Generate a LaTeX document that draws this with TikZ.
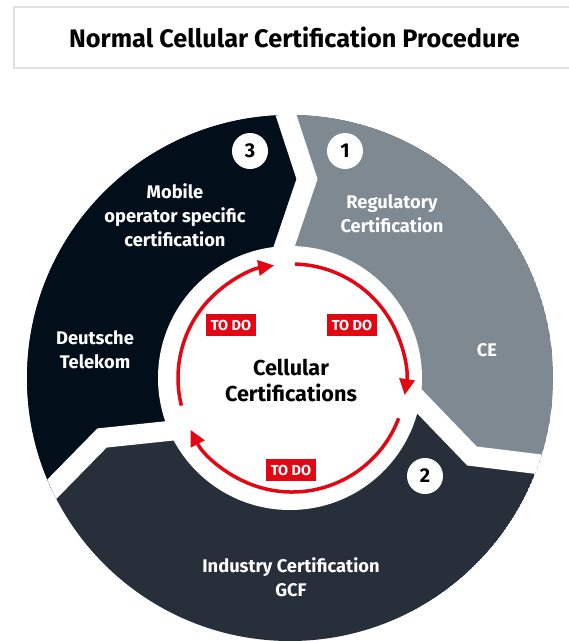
\documentclass[tikz,border=0pt]{standalone}
\usepackage{fontspec}
\setmainfont{Fira Sans}
\usetikzlibrary{arrows.meta,calc}
\definecolor{segA}{HTML}{7E8992}
\definecolor{segB}{HTML}{262F3A}
\definecolor{segC}{HTML}{020E1A}
\definecolor{todored}{HTML}{E30613}
\definecolor{framegray}{HTML}{DDE1E4}
\begin{document}
\begin{tikzpicture}[x=1pt,y=-1pt,
  seglabel/.style={text=white, font=\bfseries\fontsize{18.3}{24}\selectfont, align=center, inner sep=0pt},
  badge/.style={circle, fill=white, minimum size=36pt, inner sep=0pt, font=\bfseries\fontsize{20}{20}\selectfont},
  todo/.style={fill=todored, text=white, font=\bfseries\fontsize{14.5}{14.5}\selectfont, minimum width=50pt, minimum height=22pt, inner sep=0pt},
  gapline/.style={white, line width=20pt, line join=miter, miter limit=10},
  cyclearrow/.style={todored, line width=3.5pt, -{Triangle[length=16pt,width=15pt]}}
]
\useasboundingbox (0,0) rectangle (569,641);
\fill[white] (0,0) rectangle (569,641);
% title
\node[draw=framegray, line width=1.5pt, minimum width=561pt, minimum height=61pt, inner sep=0pt,
      font=\bfseries\fontsize{25.3}{25.3}\selectfont] (title) at (294.5,37.5) {Normal Cellular Certification Procedure};
% ring
\coordinate (O) at (290,378);
\coordinate (R) at (292,378);
\coordinate (V1) at (307,179);
\coordinate (I1) at (274,276.5);
\coordinate (E1) at (275.5,83);
\coordinate (V2) at (472,456);
\coordinate (I2) at (399.2,380.4);
\coordinate (E2) at (569.5,468);
\coordinate (V3) at (102,438);
\coordinate (I3) at (191.1,428.6);
\coordinate (E3) at (27,514.5);
\begin{scope}
  \clip (O) circle[radius=263pt];
  \fill[segB] (O) circle[radius=263pt];
  \fill[segA] (O) -- (I1) -- (V1) -- (E1) -- (700,-100) -- (700,468) -- (E2) -- (V2) -- (I2) -- cycle;
  \fill[segC] (O) -- (I3) -- (V3) -- (E3) -- (-200,514.5) -- (-200,-100) -- (E1) -- (V1) -- (I1) -- cycle;
  \draw[gapline] (I1) -- (V1) -- (E1);
  \draw[gapline] (I2) -- (V2) -- (E2);
  \draw[gapline] (I3) -- (V3) -- (E3);
\end{scope}
\fill[white] (O) circle[radius=132pt];
% cycle arrows
\draw[cyclearrow] (R) ++(88.5:114pt) arc[start angle=88.5, end angle=-8.6, radius=114pt];
\draw[cyclearrow] (R) ++(-20.7:114pt) arc[start angle=-20.7, end angle=-153, radius=114pt];
\draw[cyclearrow] (R) ++(194:114pt) arc[start angle=194, end angle=99, radius=114pt];
% badges
\node[badge] (b3) at (250,151) {3};
\node[badge] (b1) at (345,151) {1};
\node[badge] (b2) at (425,476) {2};
% labels
\node[seglabel] (l3) at (175,215) {Mobile\\operator specific\\certification};
\node[seglabel] (l3b) at (95,350) {Deutsche\\Telekom};
\node[seglabel] (l1) at (392,214) {Regulatory\\Certification};
\node[seglabel] (l1b) at (487,350) {CE};
\node[seglabel] (l2) at (291,577) {Industry Certification\\GCF};
\node[align=center, inner sep=0pt, font=\bfseries\fontsize{21.6}{26}\selectfont] (center) at (291,380) {Cellular\\Certifications};
% to do tags
\node[todo] (t3) at (231,325) {TO DO};
\node[todo] (t1) at (352,325) {TO DO};
\node[todo] (t2) at (291,470) {TO DO};
\end{tikzpicture}
\end{document}
